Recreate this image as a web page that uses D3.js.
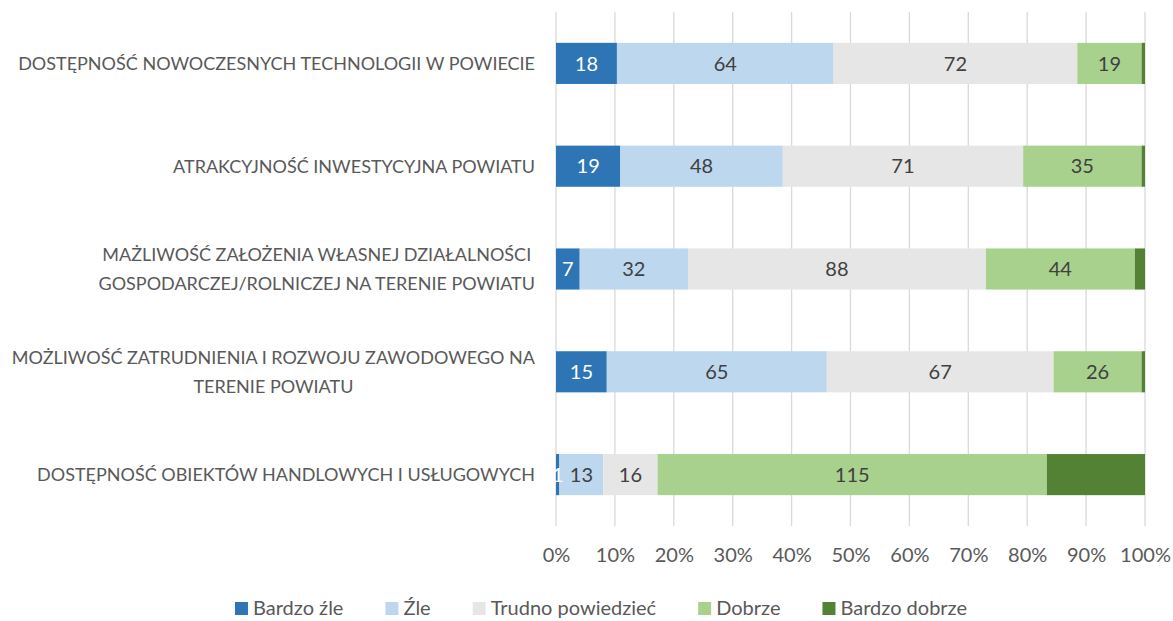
<!DOCTYPE html>
<html>
<head>
<meta charset="utf-8">
<script src="https://cdn.jsdelivr.net/npm/d3@7"></script>
<style>
  body { margin: 0; background: #fff; }
  svg { font-family: Lato, "Open Sans", sans-serif; }
</style>
</head>
<body>
<div id="chart"></div>
<script>
'use strict';

// data (counts of answers)
const categories = [
  ['DOSTĘPNOŚĆ NOWOCZESNYCH TECHNOLOGII W POWIECIE'],
  ['ATRAKCYJNOŚĆ INWESTYCYJNA POWIATU'],
  ['MAŻLIWOŚĆ ZAŁOŻENIA WŁASNEJ DZIAŁALNOŚCI', 'GOSPODARCZEJ/ROLNICZEJ NA TERENIE POWIATU'],
  ['MOŻLIWOŚĆ ZATRUDNIENIA I ROZWOJU ZAWODOWEGO NA', 'TERENIE POWIATU'],
  ['DOSTĘPNOŚĆ OBIEKTÓW HANDLOWYCH I USŁUGOWYCH']
];
const seriesNames = ['Bardzo źle', 'Źle', 'Trudno powiedzieć', 'Dobrze', 'Bardzo dobrze'];
const bardzoZle    = [18, 19, 7, 15, 1];
const zle          = [64, 48, 32, 65, 13];
const trudno       = [72, 71, 88, 67, 16];
const dobrze       = [19, 35, 44, 26, 115];
const bardzoDobrze = [1, 1, 3, 1, 29];
const tickLabels = [0, 0.1, 0.2, 0.3, 0.4, 0.5, 0.6, 0.7, 0.8, 0.9, 1];

const colors = ['#2e75b6', '#bdd7ee', '#e7e6e6', '#a9d18e', '#548235'];
const labelColors = ['#ffffff', '#404040', '#404040', '#404040', null]; // last series has no labels

const W = 1173, H = 621;
const margin = { left: 556, right: 28, top: 12, bottom: 95 };
const width = W - margin.left - margin.right;
const height = H - margin.top - margin.bottom;

const rows = categories.map((c, i) => {
  const vals = [bardzoZle[i], zle[i], trudno[i], dobrze[i], bardzoDobrze[i]];
  const total = d3.sum(vals);
  let acc = 0;
  const segs = vals.map((v, k) => {
    const s = { k, v, x0: acc / total, x1: (acc + v) / total };
    acc += v;
    return s;
  });
  return { i, label: c, segs };
});

const svg = d3.select('#chart').append('svg')
    .attr('width', W)
    .attr('height', H);

const graph = svg.append('g')
    .attr('transform', `translate(${margin.left}, ${margin.top})`);

const x = d3.scaleLinear().domain([0, 1]).range([0, width]);
const y = d3.scaleBand().domain(d3.range(categories.length)).range([0, height])
    .paddingInner(0.6).paddingOuter(0.3);

// gridlines
graph.append('g')
  .selectAll('line')
  .data(tickLabels)
  .enter().append('line')
    .attr('x1', d => x(d)).attr('x2', d => x(d))
    .attr('y1', 0).attr('y2', height)
    .attr('stroke', '#d9d9d9')
    .attr('stroke-width', 1.3);

// x axis labels
const xAxis = d3.axisBottom(x).tickValues(tickLabels).tickFormat(d3.format('.0%')).tickSize(0).tickPadding(22);
graph.append('g')
    .attr('transform', `translate(0, ${height})`)
    .call(xAxis)
    .call(g => g.select('.domain').remove())
    .selectAll('text')
      .attr('fill', '#595959')
      .style('font-size', '20px')
      .style('font-family', 'Lato, "Open Sans", sans-serif');

// bars
const rowG = graph.selectAll('.row')
    .data(rows)
  .enter().append('g')
    .attr('class', 'row')
    .attr('transform', d => `translate(0, ${y(d.i)})`);

rowG.selectAll('rect')
    .data(d => d.segs)
  .enter().append('rect')
    .attr('x', d => x(d.x0))
    .attr('width', d => x(d.x1) - x(d.x0))
    .attr('height', y.bandwidth())
    .attr('fill', d => colors[d.k]);

rowG.selectAll('.val')
    .data(d => d.segs.filter(s => labelColors[s.k]))
  .enter().append('text')
    .attr('class', 'val')
    .attr('x', d => x((d.x0 + d.x1) / 2))
    .attr('y', y.bandwidth() / 2)
    .attr('dy', '0.36em')
    .attr('text-anchor', 'middle')
    .attr('fill', d => labelColors[d.k])
    .style('font-size', '20px')
    .text(d => d.v);

// category labels, wrapped lines centred within a right-aligned block
const labelRight = margin.left - 21;
rows.forEach(r => {
  const g = svg.append('g');
  const lh = 29;
  const cy = margin.top + y(r.i) + y.bandwidth() / 2;
  const texts = r.label.map((line, j) => g.append('text')
      .attr('y', cy + (j - (r.label.length - 1) / 2) * lh)
      .attr('dy', '0.36em')
      .attr('text-anchor', 'middle')
      .attr('fill', '#595959')
      .style('font-size', '18px')
      .text(line));
  const maxW = d3.max(texts, t => t.node().getComputedTextLength());
  texts.forEach(t => t.attr('x', labelRight - maxW / 2));
});

// legend
const gap = 42;
const legend = svg.append('g');
let lx = 0;
seriesNames.forEach((name, k) => {
  const item = legend.append('g').attr('transform', `translate(${lx}, 0)`);
  item.append('rect').attr('x', 0).attr('y', -6).attr('width', 13).attr('height', 13).attr('fill', colors[k]);
  const t = item.append('text')
      .attr('x', 18)
      .attr('dy', '0.36em')
      .attr('fill', '#595959')
      .style('font-size', '20px')
      .text(name);
  lx += 18 + t.node().getComputedTextLength() + gap;
});
lx -= gap;
legend.attr('transform', `translate(${601 - lx / 2}, 608)`);
</script>
</body>
</html>
